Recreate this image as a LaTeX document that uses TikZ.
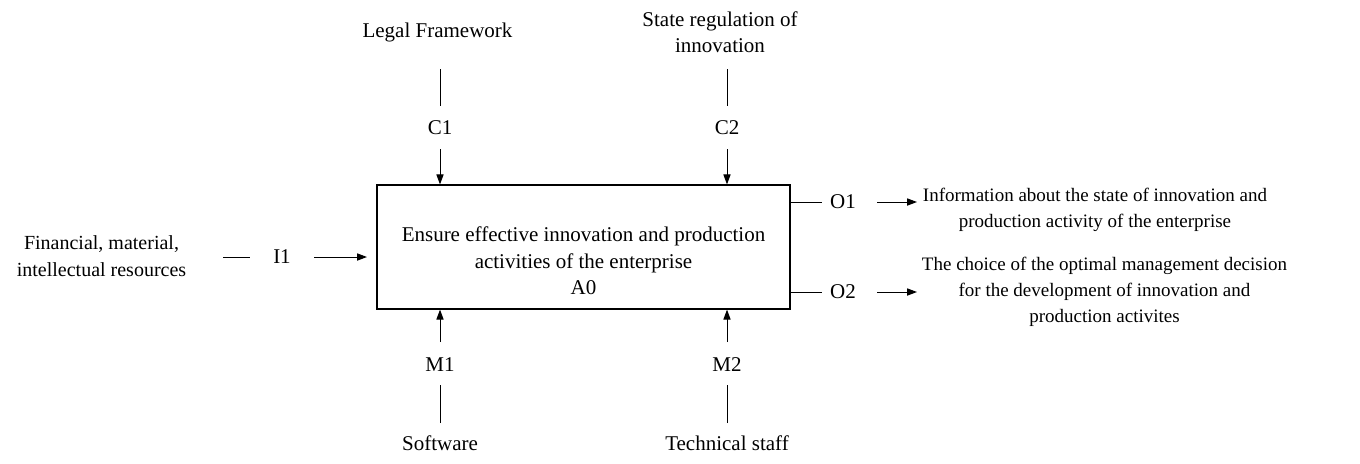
\documentclass[tikz,border=0pt]{standalone}
\usepackage{fontspec}
\setmainfont{Liberation Serif}
\usetikzlibrary{arrows.meta}
\begin{document}
\begin{tikzpicture}[x=0.5pt,y=-0.5pt, font=\fontsize{10.5}{13.2}\selectfont,
  lbl/.style={align=center, inner sep=0pt},
  small/.style={lbl, font=\fontsize{9.5}{12.9}\selectfont},
  con/.style={line width=0.5pt},
  arr/.style={con,-{Triangle[length=5pt,width=3.6pt]}}]
\useasboundingbox (0,0) rectangle (1360,463);
% main box
\node[draw, line width=0.6pt, minimum width=206.5pt, minimum height=62pt, inner sep=0pt] (box) at (583.5,247) {};
\node[lbl] (boxt) at (583.5,261) {Ensure effective innovation and production\\activities of the enterprise\\A0};
% controls
\node[lbl] (lf) at (437.5,32) {Legal Framework};
\node[lbl] (sr) at (720,32) {State regulation of\\innovation};
\node[lbl] (c1) at (440,128) {C1};
\node[lbl] (c2) at (727,128) {C2};
\coordinate (c1a) at (440,69); \coordinate (c1b) at (440,106); \coordinate (c1c) at (440,149);
\coordinate (c2a) at (727,69); \coordinate (c2b) at (727,106); \coordinate (c2c) at (727,149);
\draw[con] (c1a) -- (c1b);
\draw[con] (c2a) -- (c2b);
\draw[arr] (c1c) -- (c1c |- box.north);
\draw[arr] (c2c) -- (c2c |- box.north);
% mechanisms
\node[lbl] (m1) at (440,365) {M1};
\node[lbl] (m2) at (727,365) {M2};
\node[lbl] (sw) at (440,443) {Software};
\node[lbl] (ts) at (727,443) {Technical staff};
\coordinate (m1a) at (440,423); \coordinate (m1b) at (440,385); \coordinate (m1c) at (440,342);
\coordinate (m2a) at (727,423); \coordinate (m2b) at (727,385); \coordinate (m2c) at (727,342);
\draw[con] (m1a) -- (m1b);
\draw[con] (m2a) -- (m2b);
\draw[arr] (m1c) -- (m1c |- box.south);
\draw[arr] (m2c) -- (m2c |- box.south);
% input
\node[lbl, font=\fontsize{10}{13.2}\selectfont] (fin) at (101.5,256) {Financial, material,\\intellectual resources};
\node[lbl] (i1) at (282,257) {I1};
\coordinate (i1a) at (223,257); \coordinate (i1b) at (250,257);
\coordinate (i1c) at (314,257); \coordinate (i1d) at (367,257);
\draw[con] (i1a) -- (i1b);
\draw[arr] (i1c) -- (i1d);
% outputs
\node[lbl] (o1) at (843,202) {O1};
\node[lbl] (o2) at (843,292) {O2};
\node[small] (info) at (1095,209.5) {Information about the state of innovation and\\production activity of the enterprise};
\node[small] (choice) at (1104.5,292) {The choice of the optimal management decision\\for the development of innovation and\\production activites};
\coordinate (o1a) at (822,202); \coordinate (o1b) at (877,202); \coordinate (o1c) at (917,202);
\coordinate (o2a) at (822,292); \coordinate (o2b) at (877,292); \coordinate (o2c) at (917,292);
\draw[con] (o1a -| box.east) -- (o1a);
\draw[con] (o2a -| box.east) -- (o2a);
\draw[arr] (o1b) -- (o1c);
\draw[arr] (o2b) -- (o2c);
\end{tikzpicture}
\end{document}
